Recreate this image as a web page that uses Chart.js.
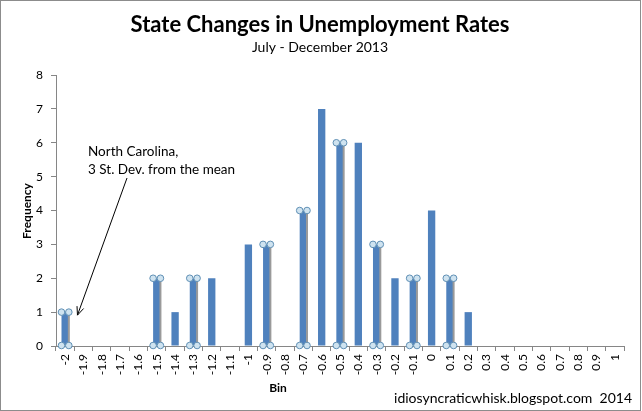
<!DOCTYPE html>
<html>
<head>
<meta charset="utf-8">
<script src="https://cdn.jsdelivr.net/npm/chart.js@4"></script>
<style>
body { margin: 0; background: #fff; }
#wrap { width: 642px; height: 411px; position: relative; }
</style>
</head>
<body>
<div id="wrap"><canvas id="chart" width="642" height="411"></canvas></div>
<script>
'use strict';

// bins of change in unemployment rate
let bins = ['-2', '-1.9', '-1.8', '-1.7', '-1.6', '-1.5', '-1.4', '-1.3', '-1.2', '-1.1',
  '-1', '-0.9', '-0.8', '-0.7', '-0.6', '-0.5', '-0.4', '-0.3', '-0.2', '-0.1',
  '0', '0.1', '0.2', '0.3', '0.4', '0.5', '0.6', '0.7', '0.8', '0.9', '1'];
let frequency = [1, 0, 0, 0, 0, 2, 1, 2, 2, 0,
  3, 3, 0, 4, 7, 6, 6, 3, 2, 2,
  4, 2, 1, 0, 0, 0, 0, 0, 0, 0, 0];
// bins that carry the little circle handles in the picture
let markedBins = ['-2', '-1.5', '-1.3', '-0.9', '-0.7', '-0.5', '-0.3', '-0.1', '0.1'];
let yTicks = [0, 1, 2, 3, 4, 5, 6, 7, 8];

let titleText = 'State Changes in Unemployment Rates';
let subtitleText = 'July - December 2013';
let noteLines = ['North Carolina,', '3 St. Dev. from the mean'];
let footerText = 'idiosyncraticwhisk.blogspot.com  2014';

let fontName = 'Lato, "Open Sans", sans-serif';

// draws titles, axis titles, the note with its arrow and the footer
let textPlugin = {
  id: 'texts',
  afterDraw(chart) {
    let ctx = chart.ctx;
    let x = chart.scales.x;
    let y = chart.scales.y;
    ctx.save();
    ctx.fillStyle = '#000';
    ctx.textAlign = 'center';
    ctx.textBaseline = 'middle';
    ctx.font = 'bold 22px ' + fontName;
    ctx.fillText(titleText, 320, 25);
    ctx.font = '14px ' + fontName;
    ctx.fillText(subtitleText, 320, 47);

    ctx.font = 'bold 12px ' + fontName;
    ctx.fillText('Bin', 278, 388);
    ctx.save();
    ctx.translate(27, 211);
    ctx.rotate(-Math.PI / 2);
    ctx.fillText('Frequency', 0, 0);
    ctx.restore();

    ctx.textAlign = 'left';
    ctx.font = '13.5px ' + fontName;
    ctx.fillText(noteLines[0], 88, 152);
    ctx.fillText(noteLines[1], 88, 170);

    ctx.textAlign = 'right';
    ctx.font = '14px ' + fontName;
    ctx.fillText(footerText, 632, 398);

    // arrow pointing at the -1.9 bin, level 1
    let tipX = x.getPixelForValue(1) - 6;
    let tipY = y.getPixelForValue(1) + 3;
    let fromX = 127, fromY = 178;
    ctx.strokeStyle = '#000';
    ctx.lineWidth = 1;
    ctx.beginPath();
    ctx.moveTo(fromX, fromY);
    ctx.lineTo(tipX, tipY);
    let ang = Math.atan2(tipY - fromY, tipX - fromX);
    let len = 9;
    ctx.moveTo(tipX - len * Math.cos(ang - 0.4), tipY - len * Math.sin(ang - 0.4));
    ctx.lineTo(tipX, tipY);
    ctx.lineTo(tipX - len * Math.cos(ang + 0.4), tipY - len * Math.sin(ang + 0.4));
    ctx.stroke();

    // outer frame
    ctx.strokeStyle = '#8c8c8c';
    ctx.strokeRect(0.5, 0.5, 640, 410);
    ctx.restore();
  }
};

// circles at bar corners for the marked bins
let handlePlugin = {
  id: 'handles',
  afterDatasetsDraw(chart) {
    let ctx = chart.ctx;
    let meta = chart.getDatasetMeta(0);
    ctx.save();
    for (let i = 0; i < bins.length; i++) {
      if (!markedBins.includes(bins[i])) continue;
      let bar = meta.data[i];
      let half = bar.width / 2;
      ctx.strokeStyle = '#9a9a9a';
      ctx.lineWidth = 2;
      ctx.beginPath();
      ctx.moveTo(bar.x + half, bar.y);
      ctx.lineTo(bar.x + half, bar.base);
      ctx.stroke();
      let corners = [[bar.x - half, bar.y], [bar.x + half, bar.y], [bar.x - half, bar.base], [bar.x + half, bar.base]];
      ctx.lineWidth = 1;
      for (let c = 0; c < corners.length; c++) {
        ctx.beginPath();
        ctx.arc(corners[c][0], corners[c][1], 3.3, 0, Math.PI * 2);
        ctx.fillStyle = '#cfe3f0';
        ctx.fill();
        ctx.strokeStyle = '#5f8fb4';
        ctx.stroke();
      }
    }
    ctx.restore();
  }
};

let ctx = document.getElementById('chart').getContext('2d');

let chart = new Chart(ctx, {
  type: 'bar',
  data: {
    labels: bins,
    datasets: [{
      label: 'Frequency',
      data: frequency,
      backgroundColor: '#4f81bd',
      barPercentage: 0.4,
      categoryPercentage: 1
    }]
  },
  options: {
    responsive: false,
    animation: false,
    layout: { padding: { top: 75, right: 18, left: 0, bottom: 0 } },
    plugins: {
      legend: { display: false },
      tooltip: { enabled: false }
    },
    scales: {
      x: {
        grid: {
          offset: true,
          drawOnChartArea: false,
          color: '#868686',
          tickLength: 5
        },
        border: { color: '#868686' },
        ticks: {
          minRotation: 90,
          maxRotation: 90,
          autoSkip: false,
          color: '#000',
          font: { family: fontName, size: 12 }
        },
        afterFit(scale) { scale.height = 65; }
      },
      y: {
        min: 0,
        max: 8,
        afterBuildTicks(scale) { scale.ticks = yTicks.map(v => ({ value: v })); },
        grid: {
          drawOnChartArea: false,
          color: '#868686',
          tickLength: 5
        },
        border: { color: '#868686' },
        ticks: {
          color: '#000',
          padding: 8,
          font: { family: fontName, size: 12 }
        },
        afterFit(scale) { scale.width = 56; }
      }
    }
  },
  plugins: [handlePlugin, textPlugin]
});
</script>
</body>
</html>
